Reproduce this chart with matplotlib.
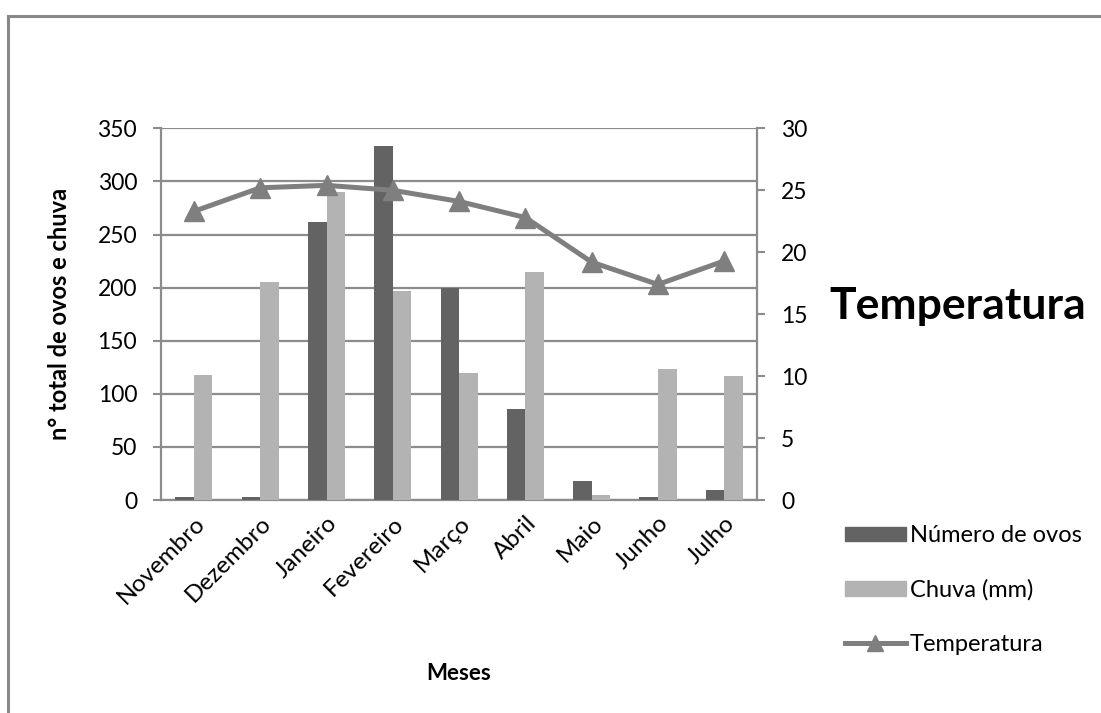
import numpy as np
import matplotlib.pyplot as plt
from matplotlib.lines import Line2D
from matplotlib.patches import Patch

plt.rcParams['font.family'] = ['Lato', 'DejaVu Sans']

# --- dati ---
meses = ['Novembro', 'Dezembro', 'Janeiro', 'Fevereiro', 'Março', 'Abril', 'Maio', 'Junho', 'Julho']
ovos = [3, 3, 262, 333, 200, 86, 18, 3, 9]
chuva = [118, 205, 290, 197, 120, 215, 5, 123, 117]
temperatura = [23.3, 25.2, 25.4, 25.0, 24.1, 22.8, 19.2, 17.4, 19.3]

c_ovos = '#636363'
c_chuva = '#b3b3b3'
c_temp = '#7f7f7f'
c_grid = '#8c8c8c'

fig = plt.figure(figsize=(11.01, 7.13), dpi=100)
ax = fig.add_axes([0.146, 0.2987, 0.542, 0.5213])

x = np.arange(len(meses))
w = 0.28
ax.bar(x - w / 2, ovos, w, color=c_ovos, zorder=3)
ax.bar(x + w / 2, chuva, w, color=c_chuva, zorder=3)

ax.set_xlim(-0.5, len(meses) - 0.5)
ax.set_ylim(0, 350)
ax.set_yticks(np.arange(0, 351, 50))
ax.yaxis.grid(True, color=c_grid, lw=1.6, zorder=0)
ax.set_axisbelow(True)
ax.set_xticks(x)
ax.set_xticklabels(meses, rotation=45, ha='right', rotation_mode='anchor', fontsize=17.5)
ax.tick_params(axis='x', length=0, pad=9)
ax.tick_params(axis='y', length=6, width=1.5, color=c_grid, labelsize=16.5, pad=11)
for s in ['top', 'right']:
    ax.spines[s].set_visible(False)
for s in ['left', 'bottom']:
    ax.spines[s].set_color(c_grid)
    ax.spines[s].set_linewidth(1.6)

ax.set_ylabel('n° total de ovos e chuva', fontsize=17, fontweight='bold', labelpad=19)
ax.set_xlabel('Meses', fontsize=16, fontweight='bold', labelpad=40)

# eixo secundario
ax2 = ax.twinx()
ax2.plot(x, temperatura, color=c_temp, lw=3.6, marker='^', markersize=15, zorder=5)
ax2.set_ylim(0, 30)
ax2.set_yticks(np.arange(0, 31, 5))
ax2.tick_params(axis='y', length=6, width=1.5, color=c_grid, labelsize=16.5, pad=11)
for s in ['top', 'left', 'bottom']:
    ax2.spines[s].set_visible(False)
ax2.spines['right'].set_color(c_grid)
ax2.spines['right'].set_linewidth(1.6)

fig.text(0.753, 0.571, 'Temperatura', fontsize=32, fontweight='bold', va='center', ha='left')

handles = [Patch(color=c_ovos), Patch(color=c_chuva),
           Line2D([0], [0], color=c_temp, lw=3.6, marker='^', markersize=12)]
fig.legend(handles, ['Número de ovos', 'Chuva (mm)', 'Temperatura'],
           loc='upper left', bbox_to_anchor=(0.748, 0.293), frameon=False,
           fontsize=17, handlelength=2.6, handleheight=0.55, handletextpad=0.15,
           labelspacing=1.4)

# bordo esterno
fig.add_artist(Line2D([8 / 1101, 8 / 1101], [0, 1 - 16 / 713], color='#888888', lw=2.2))
fig.add_artist(Line2D([8 / 1101, 1], [1 - 16 / 713, 1 - 16 / 713], color='#888888', lw=2.2))

fig.savefig('out.png', dpi=100)
